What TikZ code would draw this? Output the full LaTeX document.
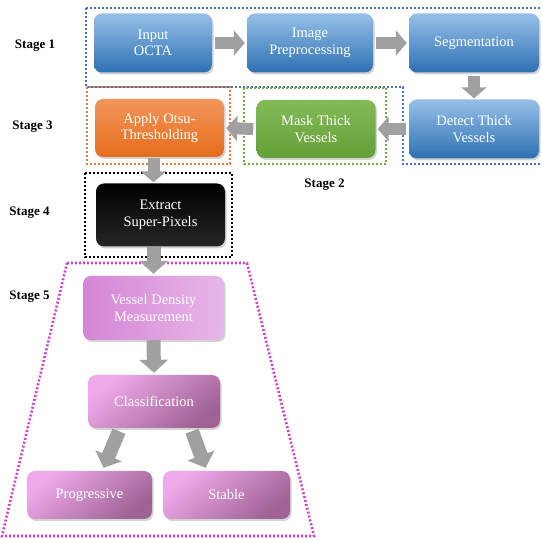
\documentclass[tikz,border=0pt]{standalone}
\usepackage{fontspec}
\setmainfont{Liberation Serif}
\usetikzlibrary{arrows.meta,shadows,calc}
\definecolor{bluetop}{RGB}{150,192,232}
\definecolor{bluebot}{RGB}{46,112,178}
\definecolor{orgtop}{RGB}{242,150,92}
\definecolor{orgbot}{RGB}{230,108,28}
\definecolor{grntop}{RGB}{130,186,88}
\definecolor{grnbot}{RGB}{100,160,56}
\definecolor{pinklt}{RGB}{240,170,236}
\definecolor{purpdk}{RGB}{158,98,148}
\definecolor{vdl}{RGB}{212,134,214}
\definecolor{vdr}{RGB}{232,182,232}
\definecolor{dotblue}{RGB}{68,114,196}
\definecolor{dotorg}{RGB}{237,125,49}
\definecolor{dotgrn}{RGB}{112,173,71}
\definecolor{dotmag}{RGB}{204,68,204}
\definecolor{arrgray}{RGB}{160,160,160}
\tikzset{
  box/.style={draw=none, rounded corners=8pt, text=white, align=center,
    font=\fontsize{14.5}{16.5}\selectfont,
    drop shadow={opacity=0.35, shadow xshift=1.5pt, shadow yshift=-2pt}},
  bluebox/.style={box, top color=bluetop, bottom color=bluebot},
  orangebox/.style={box, top color=orgtop, bottom color=orgbot},
  greenbox/.style={box, top color=grntop, bottom color=grnbot},
  blackbox/.style={box, top color=black, bottom color=black!85},
  pinkbox/.style={box, top color=pinklt, bottom color=purpdk, shading angle=40},
  vdbox/.style={box, left color=vdl, right color=vdr},
  blockarrow/.style={draw=arrgray, line width=12pt,
    -{Triangle[length=11pt,width=25pt]}},
  bigarrow/.style={blockarrow, line width=14pt, -{Triangle[length=13pt,width=28pt]}},
  dotline/.style={line width=2.6pt, dash pattern=on 2pt off 2pt},
  stagelabel/.style={font=\bfseries\fontsize{13}{15}\selectfont, text=black}
}
\begin{document}
\begin{tikzpicture}[x=1pt,y=-1pt]
\useasboundingbox (0,0) rectangle (542,540);
% dotted groupings
\draw[dotline, dotblue] (86,8) -- (545,8);
\draw[dotline, dotblue] (86,8) -- (86,87) -- (403,87) -- (403,164) -- (545,164);
\draw[dotline, dotorg] (87,87) rectangle (230,164);
\draw[dotline, dotgrn] (244,88) rectangle (386,164);
\draw[dotline, black] (85,173) rectangle (232,257);
\draw[dotline, dotmag] (67,263) -- (247,263) -- (314,536) -- (2,536) -- cycle;
% nodes
\node[bluebox, minimum width=118pt, minimum height=59pt] (inp) at (153,43) {Input\\OCTA};
\node[bluebox, minimum width=126pt, minimum height=59pt] (pre) at (310,43) {Image\\Preprocessing};
\node[bluebox, minimum width=130pt, minimum height=59pt] (seg) at (474,43) {Segmentation};
\node[bluebox, minimum width=130pt, minimum height=59pt] (det) at (474,129) {Detect Thick\\Vessels};
\node[greenbox, minimum width=119pt, minimum height=58pt] (mask) at (316,129) {Mask Thick\\Vessels};
\node[orangebox, minimum width=129pt, minimum height=58pt] (otsu) at (159.5,128) {Apply Otsu-\\Thresholding};
\node[blackbox, minimum width=129pt, minimum height=63pt] (ext) at (160.5,215) {Extract\\Super-Pixels};
\node[vdbox, minimum width=141pt, minimum height=64pt] (vd) at (153.5,308) {Vessel Density\\Measurement};
\node[pinkbox, minimum width=132pt, minimum height=53pt] (cls) at (154,401.5) {Classification};
\node[pinkbox, minimum width=125pt, minimum height=48pt] (prog) at (89.5,495) {Progressive};
\node[pinkbox, minimum width=127pt, minimum height=48pt] (stab) at (226.5,495) {Stable};
% stage labels
\node[stagelabel] (s1) at (35,46) {Stage 1};
\node[stagelabel] (s3) at (32.5,127) {Stage 3};
\node[stagelabel] (s2) at (324.5,185) {Stage 2};
\node[stagelabel] (s4) at (29.5,213) {Stage 4};
\node[stagelabel] (s5) at (29.5,297) {Stage 5};
% arrows
\draw[blockarrow] ([xshift=3pt]inp.east) -- ([xshift=-2pt]pre.west);
\draw[blockarrow] ([xshift=3pt]pre.east) -- ([xshift=-2pt]seg.west);
\draw[blockarrow] ([yshift=-3pt]seg.south) -- ([yshift=1pt]det.north);
\draw[blockarrow] ([xshift=-3pt]det.west) -- ([xshift=2pt]mask.east);
\draw[blockarrow] ([xshift=-3pt]mask.west) -- ([xshift=2pt]otsu.east);
\draw[blockarrow] ([xshift=-6pt,yshift=-1pt]otsu.south) -- ([xshift=-7pt,yshift=1pt]ext.north);
\draw[bigarrow] ([xshift=-7pt]ext.south) -- ([yshift=2pt]vd.north);
\draw[bigarrow] (vd.south) -- ([yshift=2pt]cls.north);
\draw[bigarrow] ([xshift=-35pt,yshift=-3pt]cls.south) -- ([xshift=14pt,yshift=3pt]prog.north);
\draw[bigarrow] ([xshift=38pt,yshift=-3pt]cls.south) -- ([xshift=-21pt,yshift=3pt]stab.north);
\end{tikzpicture}
\end{document}
